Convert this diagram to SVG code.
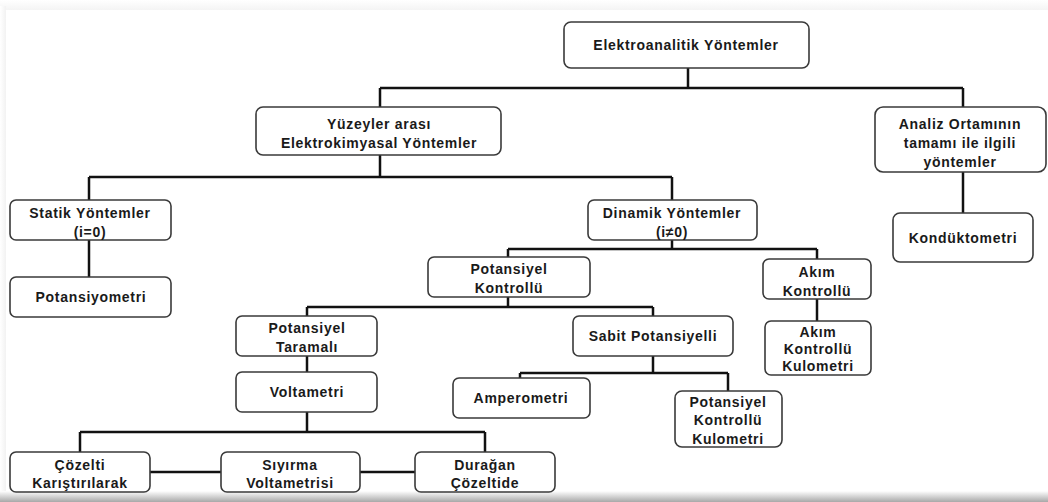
<svg xmlns="http://www.w3.org/2000/svg" width="1048" height="502" viewBox="0 0 1048 502">
<defs>
<linearGradient id="bot" x1="0" y1="0" x2="0" y2="1">
<stop offset="0" stop-color="#ffffff"/>
<stop offset="1" stop-color="#a8a8a8"/>
</linearGradient>
<linearGradient id="top" x1="0" y1="0" x2="0" y2="1">
<stop offset="0" stop-color="#ffffff"/>
<stop offset="1" stop-color="#f4f4f4"/>
</linearGradient>
<linearGradient id="left" x1="0" y1="0" x2="1" y2="0">
<stop offset="0" stop-color="#ffffff"/>
<stop offset="1" stop-color="#f2f2f2"/>
</linearGradient>
</defs>
<style>
.box{fill:#ffffff;stroke:#3a3a3a;stroke-width:1.6}
.t{font-family:"Liberation Sans",Arial,sans-serif;font-weight:bold;font-size:14px;letter-spacing:0.7px;fill:#1a1a1a;text-anchor:middle;dominant-baseline:central}
.c{fill:none;stroke:#111111;stroke-width:2.5}
</style>
<rect x="0" y="0" width="1048" height="502" fill="#ffffff"/>
<rect x="0" y="0" width="1048" height="10" fill="url(#top)"/>
<rect x="0" y="6" width="6" height="490" fill="url(#left)"/>
<rect x="0" y="491" width="1048" height="11" fill="url(#bot)"/>
<g id="connectors">
<path class="c" d="M688 68V88M380 88H963M380 88V107M963 88V107"/>
<path class="c" d="M380 155V177M89 177H672M89 177V200M672 177V200"/>
<path class="c" d="M89 240V277"/>
<path class="c" d="M963 172V213"/>
<path class="c" d="M672 240V249M508 249H817M508 249V257M817 249V259"/>
<path class="c" d="M817 299V321"/>
<path class="c" d="M508 297V307M307 307H653M307 307V316M653 307V316"/>
<path class="c" d="M307 356V372"/>
<path class="c" d="M307 412V432M80 432H485M80 432V452M485 432V452"/>
<path class="c" d="M150 472H221M360 472H415"/>
<path class="c" d="M653 356V373M520 373H728M520 373V378M728 373V391"/>
</g>
<g id="n-root"><rect class="box" x="564" y="22" width="245" height="46" rx="7"/><text class="t" x="686" y="45">Elektroanalitik Yöntemler</text></g>
<g id="n-yuzeyler"><rect class="box" x="256" y="107" width="245" height="48" rx="7"/><text class="t" x="379" y="124">Yüzeyler arası</text><text class="t" x="379" y="143">Elektrokimyasal Yöntemler</text></g>
<g id="n-analiz"><rect class="box" x="875" y="107" width="171" height="65" rx="8"/><text class="t" x="960" y="124">Analiz Ortamının</text><text class="t" x="960" y="143">tamamı ile ilgili</text><text class="t" x="960" y="162">yöntemler</text></g>
<g id="n-statik"><rect class="box" x="10" y="200" width="161" height="40" rx="6"/><text class="t" x="90" y="213">Statik Yöntemler</text><text class="t" x="90" y="232">(i=0)</text></g>
<g id="n-dinamik"><rect class="box" x="588" y="200" width="169" height="40" rx="6"/><text class="t" x="672" y="213">Dinamik Yöntemler</text><text class="t" x="672" y="232">(i≠0)</text></g>
<g id="n-kondukto"><rect class="box" x="893" y="213" width="140" height="49" rx="7"/><text class="t" x="963" y="238">Kondüktometri</text></g>
<g id="n-potansiyometri"><rect class="box" x="10" y="277" width="161" height="40" rx="6"/><text class="t" x="91" y="297">Potansiyometri</text></g>
<g id="n-potkontrol"><rect class="box" x="428" y="257" width="162" height="40" rx="6"/><text class="t" x="509" y="269">Potansiyel</text><text class="t" x="509" y="288">Kontrollü</text></g>
<g id="n-akimkontrol"><rect class="box" x="763" y="259" width="108" height="40" rx="6"/><text class="t" x="817" y="272">Akım</text><text class="t" x="817" y="291">Kontrollü</text></g>
<g id="n-akimkulo"><rect class="box" x="765" y="321" width="106" height="54" rx="6"/><text class="t" x="818" y="332">Akım</text><text class="t" x="818" y="349">Kontrollü</text><text class="t" x="818" y="366">Kulometri</text></g>
<g id="n-taramali"><rect class="box" x="236" y="316" width="141" height="40" rx="6"/><text class="t" x="307" y="328">Potansiyel</text><text class="t" x="307" y="347">Taramalı</text></g>
<g id="n-sabit"><rect class="box" x="573" y="316" width="160" height="40" rx="6"/><text class="t" x="653" y="336">Sabit Potansiyelli</text></g>
<g id="n-voltametri"><rect class="box" x="236" y="372" width="141" height="40" rx="6"/><text class="t" x="307" y="392">Voltametri</text></g>
<g id="n-ampero"><rect class="box" x="453" y="378" width="137" height="40" rx="6"/><text class="t" x="521" y="398">Amperometri</text></g>
<g id="n-potkulo"><rect class="box" x="675" y="391" width="107" height="56" rx="7"/><text class="t" x="728" y="402">Potansiyel</text><text class="t" x="728" y="420">Kontrollü</text><text class="t" x="728" y="439">Kulometri</text></g>
<g id="n-cozelti"><rect class="box" x="10" y="452" width="140" height="40" rx="6"/><text class="t" x="80" y="465">Çözelti</text><text class="t" x="80" y="483">Karıştırılarak</text></g>
<g id="n-siyirma"><rect class="box" x="221" y="452" width="139" height="40" rx="6"/><text class="t" x="290" y="465">Sıyırma</text><text class="t" x="290" y="483">Voltametrisi</text></g>
<g id="n-duragan"><rect class="box" x="415" y="452" width="140" height="40" rx="6"/><text class="t" x="485" y="465">Durağan</text><text class="t" x="485" y="483">Çözeltide</text></g>
</svg>
